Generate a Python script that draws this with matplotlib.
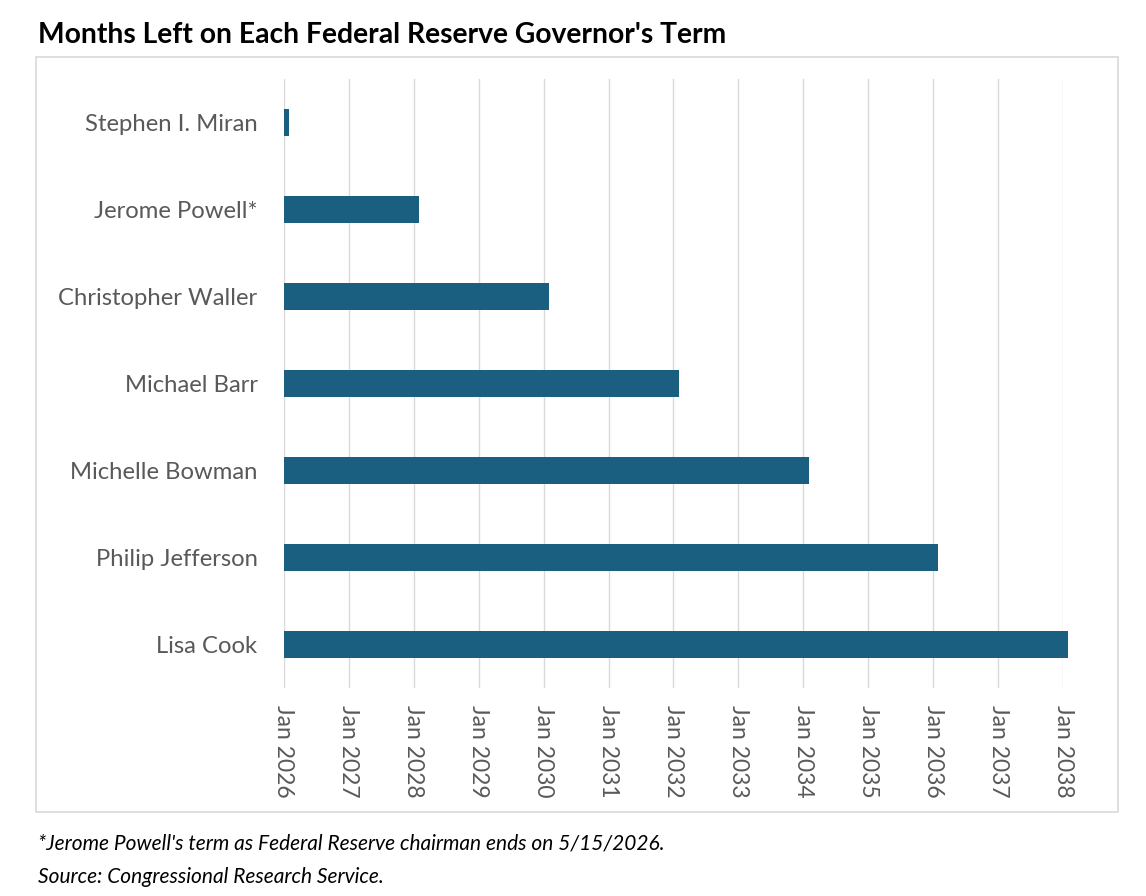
import matplotlib.pyplot as plt
import matplotlib.dates as mdates
from matplotlib.patches import Rectangle
import numpy as np
import datetime as dt

governors = ["Stephen I. Miran", "Jerome Powell*", "Christopher Waller", "Michael Barr",
             "Michelle Bowman", "Philip Jefferson", "Lisa Cook"]
term_ends = ["2026-01-31", "2028-01-31", "2030-01-31", "2032-01-31",
             "2034-01-31", "2036-01-31", "2038-01-31"]
start_date = "2026-01-01"
tick_years = list(range(2026, 2039))

plt.rcParams['font.family'] = ['Lato', 'DejaVu Sans']

fig = plt.figure(figsize=(11.46, 8.96), dpi=100)
ax = fig.add_axes([0.2478, 0.2321, 0.6798, 0.6797])

start = mdates.date2num(dt.date.fromisoformat(start_date))
ends = [mdates.date2num(dt.date.fromisoformat(d)) for d in term_ends]
ypos = np.arange(len(governors))

bars = ax.barh(ypos, [e - start for e in ends], left=start, height=0.3,
               color='#1a5e80', zorder=3)
for b in bars:
    b.set_clip_on(False)

ticks = [mdates.date2num(dt.date(y, 1, 1)) for y in tick_years]
ax.set_xticks(ticks)
ax.set_xticklabels([f"Jan {y}" for y in tick_years], rotation=-90, fontsize=16.5,
                   color='#595959', va='top', ha='center')
ax.set_xlim(ticks[0], ticks[-1])
ax.set_ylim(len(governors) - 0.5, -0.5)
ax.set_yticks(ypos)
ax.set_yticklabels(governors, fontsize=17.2, color='#595959')
ax.tick_params(axis='y', length=0, pad=19)
ax.tick_params(axis='x', length=0, pad=12)
ax.grid(axis='x', color='#d9d9d9', linewidth=1, zorder=0)
for s in ax.spines.values():
    s.set_visible(False)

fig.patches.append(Rectangle((36 / 1146, 1 - 812 / 896), (1118 - 36) / 1146, (812 - 57) / 896,
                             transform=fig.transFigure, fill=False, edgecolor='#d9d9d9',
                             linewidth=1.2))

fig.text(38 / 1146, 1 - 35 / 896, "Months Left on Each Federal Reserve Governor's Term",
         fontsize=20.3, fontweight='bold', color='black', va='center', ha='left')
fig.text(38 / 1146, 1 - 843 / 896,
         "*Jerome Powell's term as Federal Reserve chairman ends on 5/15/2026.",
         fontsize=15, style='italic', color='black', va='center', ha='left')
fig.text(38 / 1146, 1 - 877 / 896, "Source: Congressional Research Service.",
         fontsize=15, style='italic', color='black', va='center', ha='left')

fig.savefig('out.png', dpi=100)
